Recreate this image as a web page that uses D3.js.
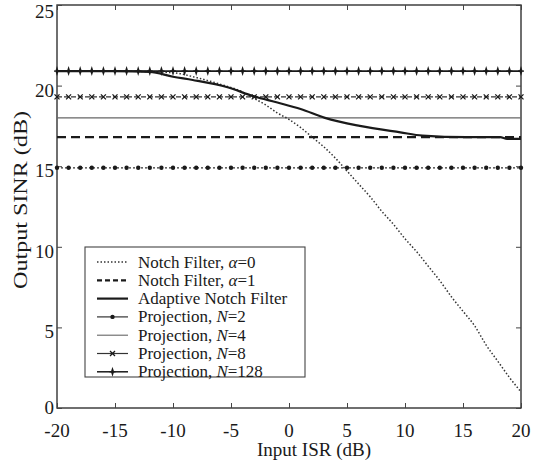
<!DOCTYPE html>
<html>
<head>
<meta charset="utf-8">
<script src="https://cdn.jsdelivr.net/npm/d3@7"></script>
<style>
  html, body { margin: 0; padding: 0; background: #fff; }
  svg { display: block; font-family: "Liberation Serif", "Times New Roman", serif; }
</style>
</head>
<body>
<svg id="chart" width="533" height="464"></svg>
<script>
// Input ISR axis (dB)
const isrTicks = [-20, -15, -10, -5, 0, 5, 10, 15, 20];
const sinrTicks = [0, 5, 10, 15, 20, 25];

// Marker positions for the constant projection curves (every 1 dB)
const markerIsr = d3.range(-20, 21, 1);

// Constant output SINR levels (dB)
const projN2 = 14.9;
const projN4 = 18.0;
const projN8 = 19.3;
const projN128 = 20.9;
const notchA1 = 16.8;

// Notch filter, alpha = 0
const notchA0Isr  = [-20, -15, -10, -8, -6, -4, -3, -2, -1, 0, 1, 2, 3, 4, 5, 6, 7, 8, 9, 10, 11, 12, 13, 14, 15, 16, 17, 18, 19, 20];
const notchA0Sinr = [20.9, 20.9, 20.8, 20.5, 20.1, 19.6, 19.2, 18.8, 18.3, 17.9, 17.4, 16.8, 16.2, 15.5, 14.7, 13.9, 13.1, 12.2, 11.4, 10.5, 9.7, 8.8, 7.9, 6.9, 6.0, 5.1, 3.9, 2.9, 1.9, 1.0];

// Adaptive notch filter
const adaptIsr  = [-20, -15, -12, -10, -8.3, -5.3, -3.1, -1, 1, 3.1, 6.1, 9.6, 11.5, 15.3, 18.2, 18.8, 20];
const adaptSinr = [20.9, 20.9, 20.85, 20.55, 20.35, 19.9, 19.35, 18.95, 18.55, 18.0, 17.5, 17.1, 16.9, 16.8, 16.8, 16.7, 16.7];

const legendLabels = [
  ["Notch Filter, ", "α", "=0"],
  ["Notch Filter, ", "α", "=1"],
  ["Adaptive Notch Filter", "", ""],
  ["Projection, ", "N", "=2"],
  ["Projection, ", "N", "=4"],
  ["Projection, ", "N", "=8"],
  ["Projection, ", "N", "=128"]
];

const svg = d3.select("#chart");
const L = 57, R = 521, T = 5, B = 408;
const x = d3.scaleLinear().domain([-20, 20]).range([L, R]);
const y = d3.scaleLinear().domain([0, 25]).range([B, T]);
const ink = "#1a1a1a";

// frame
svg.append("rect").attr("x", L).attr("y", T).attr("width", R - L).attr("height", B - T)
  .attr("fill", "none").attr("stroke", "#333").attr("stroke-width", 1.4);

// inward ticks on all four sides
const tl = 5;
const axB = d3.axisBottom(x).tickValues(isrTicks).tickSizeInner(-tl).tickSizeOuter(0).tickFormat("");
const axT = d3.axisTop(x).tickValues(isrTicks).tickSizeInner(-tl).tickSizeOuter(0).tickFormat("");
const axL = d3.axisLeft(y).tickValues(sinrTicks).tickSizeInner(-tl).tickSizeOuter(0).tickFormat("");
const axR = d3.axisRight(y).tickValues(sinrTicks).tickSizeInner(-tl).tickSizeOuter(0).tickFormat("");
[[axB, `translate(0,${B})`], [axT, `translate(0,${T})`], [axL, `translate(${L},0)`], [axR, `translate(${R},0)`]]
  .forEach(([ax, tr]) => {
    const g = svg.append("g").attr("transform", tr).call(ax);
    g.select(".domain").remove();
    g.selectAll(".tick line").attr("stroke", "#444").attr("stroke-width", 1);
  });

// tick labels
svg.append("g").selectAll("text").data(isrTicks).join("text")
  .attr("x", d => x(d)).attr("y", B + 29)
  .attr("text-anchor", "middle").attr("font-size", 19).attr("fill", ink)
  .text(d => d);
svg.append("g").selectAll("text").data(sinrTicks).join("text")
  .attr("x", L - 3).attr("y", d => y(d) + (d === 0 ? 6 : d === 25 ? 13 : 11))
  .attr("text-anchor", "end").attr("font-size", 19).attr("fill", ink)
  .text(d => d);

// axis titles
svg.append("text").attr("x", 314).attr("y", 456).attr("text-anchor", "middle")
  .attr("font-size", 19).attr("fill", ink).text("Input ISR (dB)");
svg.append("text").attr("transform", "translate(27,200) rotate(-90)")
  .attr("text-anchor", "middle").attr("font-size", 18).attr("fill", ink)
  .attr("textLength", 178).attr("lengthAdjust", "spacingAndGlyphs")
  .text("Output SINR (dB)");

const line = d3.line().x(d => x(d[0])).y(d => y(d[1]));
const plot = svg.append("g");

// constant projection / notch levels
function hline(v, attrs) {
  const p = plot.append("path").datum([[-20, v], [20, v]]).attr("d", line).attr("fill", "none");
  Object.entries(attrs).forEach(([k, val]) => p.attr(k, val));
  return p;
}

hline(projN4, { stroke: "#666", "stroke-width": 1.1 });
hline(notchA1, { stroke: ink, "stroke-width": 2.2, "stroke-dasharray": "9,5" });
hline(projN2, { stroke: "#333", "stroke-width": 1.2, "stroke-dasharray": "2,2" });
hline(projN8, { stroke: "#333", "stroke-width": 1.4, "stroke-dasharray": "5,2" });
hline(projN128, { stroke: ink, "stroke-width": 1.8 });

// markers
function dotMark(g) { g.append("circle").attr("r", 2.2).attr("fill", ink); }
function xMark(g) { g.append("path").attr("d", "M-2.5,-2.5L2.5,2.5M-2.5,2.5L2.5,-2.5").attr("stroke", ink).attr("stroke-width", 1.3); }
function plusMark(g) {
  g.append("path").attr("d", "M0,-5L1.6,0L0,5L-1.6,0Z").attr("fill", ink);
  g.append("path").attr("d", "M-3,0L3,0").attr("stroke", ink).attr("stroke-width", 1.3);
}
function markers(v, fn) {
  plot.append("g").selectAll("g").data(markerIsr).join("g")
    .attr("transform", d => `translate(${x(d)},${y(v)})`)
    .each(function () { fn(d3.select(this)); });
}
markers(projN2, dotMark);
markers(projN8, xMark);
markers(projN128, plusMark);

// notch filter alpha=0 (dotted) and adaptive notch filter (solid)
plot.append("path").datum(notchA0Isr.map((v, i) => [v, notchA0Sinr[i]]))
  .attr("d", line.curve(d3.curveMonotoneX)).attr("fill", "none")
  .attr("stroke", "#333").attr("stroke-width", 1.5).attr("stroke-dasharray", "1.5,2");
plot.append("path").datum(adaptIsr.map((v, i) => [v, adaptSinr[i]]))
  .attr("d", d3.line().x(d => x(d[0])).y(d => y(d[1])).curve(d3.curveMonotoneX))
  .attr("fill", "none").attr("stroke", ink).attr("stroke-width", 2.2);

// legend
const lg = svg.append("g");
lg.append("rect").attr("x", 85).attr("y", 247).attr("width", 220).attr("height", 130)
  .attr("fill", "#fff").attr("stroke", "#444").attr("stroke-width", 1.1);
const rowY = i => 262 + i * 18.3;
const sx0 = 97, sx1 = 128;
const sampleStyles = [
  { stroke: "#333", w: 1.5, dash: "1.5,2", mark: null },
  { stroke: ink, w: 2.2, dash: "5,3", mark: null },
  { stroke: ink, w: 2.2, dash: null, mark: null },
  { stroke: "#333", w: 1.2, dash: null, mark: dotMark },
  { stroke: "#666", w: 1.1, dash: null, mark: null },
  { stroke: "#333", w: 1.2, dash: null, mark: xMark },
  { stroke: ink, w: 1.5, dash: null, mark: plusMark }
];
legendLabels.forEach((lab, i) => {
  const s = sampleStyles[i];
  const ln = lg.append("line").attr("x1", sx0).attr("x2", sx1).attr("y1", rowY(i)).attr("y2", rowY(i))
    .attr("stroke", s.stroke).attr("stroke-width", s.w);
  if (s.dash) ln.attr("stroke-dasharray", s.dash);
  if (s.mark) s.mark(lg.append("g").attr("transform", `translate(${(sx0 + sx1) / 2},${rowY(i)})`));
  const t = lg.append("text").attr("x", 138).attr("y", rowY(i) + 5.5).attr("font-size", 17).attr("fill", ink);
  t.append("tspan").text(lab[0]);
  if (lab[1]) t.append("tspan").attr("font-style", "italic").text(lab[1]);
  if (lab[2]) t.append("tspan").text(lab[2]);
});
</script>
</body>
</html>
